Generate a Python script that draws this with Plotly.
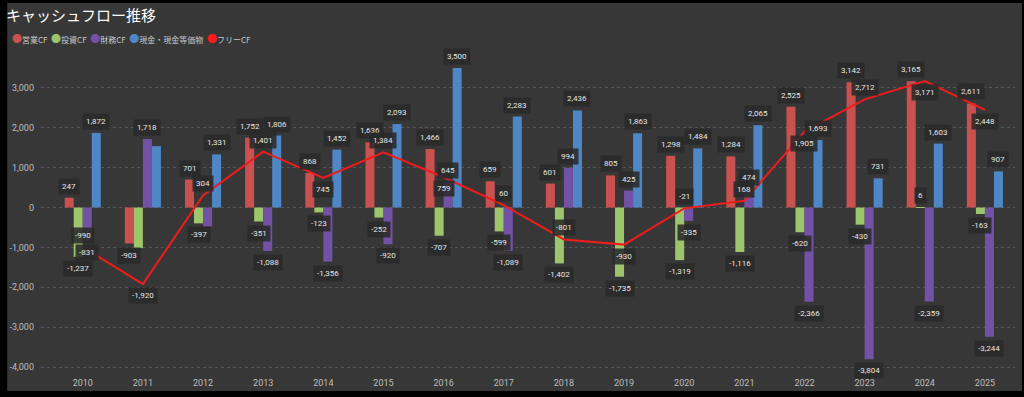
import plotly.graph_objects as go

years = list(range(2010, 2026))
operating_cf = [247, -903, 701, 1752, 868, 1636, 1466, 659, 601, 805, 1298, 1284, 2525, 3142, 3165, 2611]
investing_cf = [-1237, -1017, -397, -351, -123, -252, -707, -599, -1402, -1735, -1319, -1116, -620, -430, 6, -163]
financing_cf = [-831, 1718, -480, -1088, -1356, -920, 645, -1089, 994, 425, -335, 474, -2366, -3804, -2359, -3244]
cash_eq = [1872, 1540, 1331, 1806, 1452, 2093, 3500, 2283, 2436, 1863, 1484, 2065, 1693, 731, 1603, 907]
free_cf = [-990, -1920, 304, 1401, 745, 1384, 759, 60, -801, -930, -21, 168, 1905, 2712, 3171, 2448]

series_names = ["営業CF", "投資CF", "財務CF", "現金・現金等価物"]
line_name = "フリーCF"
y_ticks = [-4000, -3000, -2000, -1000, 0, 1000, 2000, 3000]

# styling
colors = ["#c9514f", "#9dc56b", "#7352a6", "#4e86c6"]
line_color = "#f01c1c"
panel_bg = "#373737"
label_bg = "rgba(42,42,42,0.88)"
label_font = dict(family="Roboto, DejaVu Sans", size=8, color="#e6e6e6")
# labels the reference hides because of overlaps (series index, year)
hidden_labels = {(3, 2011), (2, 2012), (1, 2011)}
# where the free-CF labels sit relative to the line
free_label_side = ["up", "down", "up", "up", "down", "up", "down", "up",
                   "up", "down", "up", "up", "down", "up", "down", "down"]

W, H = 1024, 397
ML, MR, MT, MB = 35, 9, 60, 25
BARGAP = 0.4
n_series = 4
bar_w = (1 - BARGAP) / n_series

pw, ph = W - ML - MR, H - MT - MB
def px_x(px):
    return (px - ML) / pw
def px_y(py):
    return (H - MB - py) / ph

fig = go.Figure()
all_series = [operating_cf, investing_cf, financing_cf, cash_eq]
for i, (name, vals) in enumerate(zip(series_names, all_series)):
    fig.add_trace(go.Bar(x=years, y=vals, name=name, marker=dict(color=colors[i], line=dict(width=0)),
                         showlegend=False, hoverinfo="x+y+name"))

fig.add_trace(go.Scatter(x=years, y=free_cf, name=line_name, mode="lines",
                         line=dict(color=line_color, width=2), showlegend=False))

annotations = []
for i, vals in enumerate(all_series):
    off = (i - (n_series - 1) / 2) * bar_w
    for yr, v in zip(years, vals):
        if (i, yr) in hidden_labels:
            continue
        pos = v >= 0
        annotations.append(dict(
            x=yr + off, y=v, xref="x", yref="y", text=f"{v:,}", showarrow=False,
            yanchor="bottom" if pos else "top", yshift=3 if pos else -3,
            bgcolor=label_bg, borderpad=3, font=label_font))

for yr, v, side in zip(years, free_cf, free_label_side):
    up = side == "up"
    annotations.append(dict(
        x=yr, y=v, xref="x", yref="y", text=f"{v:,}", showarrow=False,
        yanchor="bottom" if up else "top", yshift=3 if up else -3,
        bgcolor=label_bg, borderpad=3, font=label_font))

# legend row (drawn as text)
legend_items = list(zip(series_names, colors)) + [(line_name, "#ff1a1a")]
legend_text = "&nbsp;&nbsp;".join(
    f'<span style="color:{c};font-size:10px">●</span>{n}'
    for n, c in legend_items)
annotations.append(dict(
    x=px_x(4), y=px_y(38), xref="paper", yref="paper", text=legend_text, showarrow=False,
    xanchor="left", yanchor="middle",
    font=dict(family="Noto Sans CJK JP", size=8, color="#c8c8c8")))

fig.update_layout(
    width=W, height=H,
    margin=dict(l=ML, r=MR, t=MT, b=MB),
    paper_bgcolor="#000000",
    plot_bgcolor="rgba(0,0,0,0)",
    barmode="group", bargap=BARGAP, bargroupgap=0,
    title=dict(text="キャッシュフロー推移", x=6 / W, xref="container", xanchor="left",
               y=1 - 16 / H, yref="container", yanchor="middle",
               font=dict(family="Noto Sans CJK JP", size=15, color="#ffffff")),
    xaxis=dict(range=[2009.306, 2025.5], tickvals=years, ticktext=[str(y) for y in years],
               showgrid=False, zeroline=False, showline=False, ticks="", ticklabelstandoff=4,
               tickfont=dict(family="Roboto, DejaVu Sans", size=9, color="#bdbdbd")),
    yaxis=dict(range=[-4125, 3700], tickvals=y_ticks, ticktext=[f"{t:,}" for t in y_ticks],
               showgrid=True, gridcolor="#575757", griddash="dot", gridwidth=1,
               zeroline=False, showline=False, ticks="", ticklabelstandoff=6,
               tickfont=dict(family="Roboto, DejaVu Sans", size=9, color="#bdbdbd")),
    annotations=annotations,
    shapes=[dict(type="rect", xref="paper", yref="paper",
                 x0=px_x(1), x1=px_x(1022), y0=px_y(391), y1=px_y(3),
                 fillcolor=panel_bg, line=dict(width=0), layer="below")],
    font=dict(family="Noto Sans CJK JP"),
)

fig.write_html("out.html", config={"displayModeBar": False},
               post_script="document.body.style.margin='0';document.body.style.background='#000';")
